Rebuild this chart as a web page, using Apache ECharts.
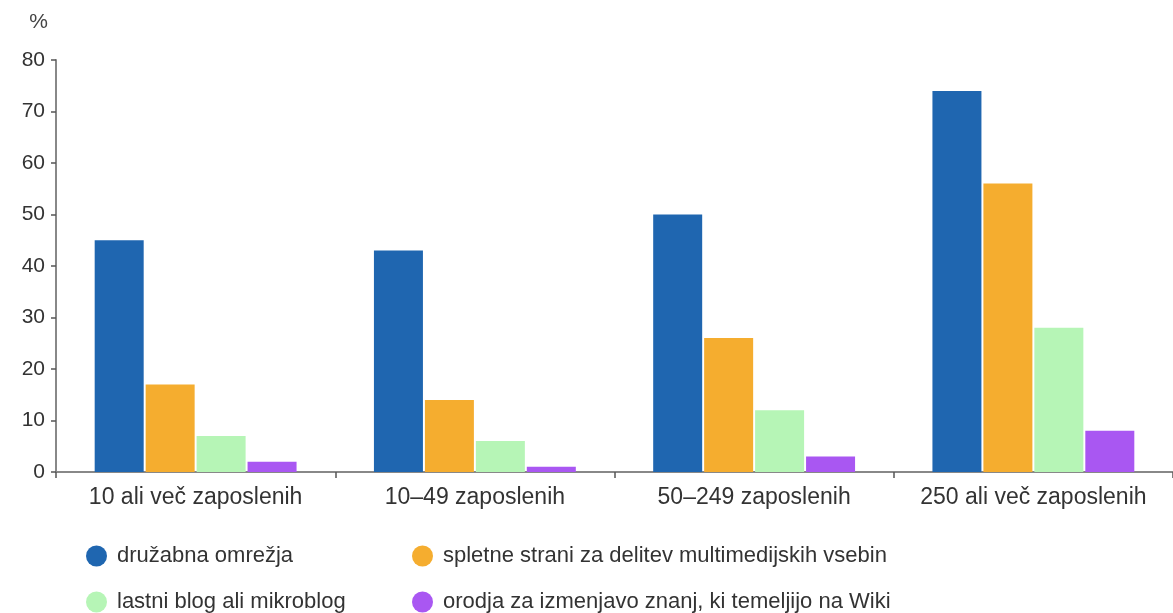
<!DOCTYPE html>
<html>
<head>
<meta charset="utf-8">
<script src="https://cdn.jsdelivr.net/npm/echarts@6/dist/echarts.min.js"></script>
<style>
  html, body { margin: 0; padding: 0; background: #fff; }
  #chart { width: 1173px; height: 613px; }
</style>
</head>
<body>
<div id="chart"></div>
<script>
// kategorije (velikost podjetja)
const categories = ['10 ali več zaposlenih', '10–49 zaposlenih', '50–249 zaposlenih', '250 ali več zaposlenih'];

// deleži podjetij v %
const druzabna = [45, 43, 50, 74];
const multimedija = [17, 14, 26, 56];
const blog = [7, 6, 12, 28];
const wiki = [2, 1, 3, 8];

const seriesNames = [
    'družabna omrežja',
    'spletne strani za delitev multimedijskih vsebin',
    'lastni blog ali mikroblog',
    'orodja za izmenjavo znanj, ki temeljijo na Wiki'
];
const colors = ['#1f66b0', '#f5ad2f', '#b6f5b6', '#a957f2'];

const chart = echarts.init(document.querySelector('#chart'));

const fontFam = 'Liberation Sans, Arial, sans-serif';

// legenda: vsak vnos posebej (2 stolpca, 2 vrstici)
const legendPos = [[86, 545], [412, 545], [86, 591], [412, 591]];
const legends = seriesNames.map((name, i) => ({
    data: [name],
    left: legendPos[i][0],
    top: legendPos[i][1],
    icon: 'circle',
    itemWidth: 21,
    itemHeight: 21,
    padding: 0,
    textStyle: {
        fontFamily: fontFam,
        fontSize: 22,
        color: '#333',
        padding: [0, 0, 0, 5]
    }
}));

chart.setOption({
    color: colors,
    animation: false,
    grid: {
        left: 56,
        right: -8,
        top: 60,
        bottom: 141
    },
    legend: legends,
    xAxis: {
        type: 'category',
        data: categories,
        axisLine: {
            lineStyle: { color: '#888', width: 2 }
        },
        axisTick: {
            show: true,
            interval: 0,
            length: 6,
            lineStyle: { color: '#555', width: 1.5 }
        },
        axisLabel: {
            interval: 0,
            fontFamily: fontFam,
            fontSize: 23,
            color: '#333',
            margin: 14
        }
    },
    yAxis: {
        type: 'value',
        min: 0,
        max: 80,
        interval: 10,
        name: '%',
        nameLocation: 'end',
        nameGap: 27,
        nameTextStyle: {
            fontFamily: fontFam,
            fontSize: 21,
            color: '#444',
            align: 'right',
            padding: [0, 8, 0, 0]
        },
        axisLine: {
            show: true,
            lineStyle: { color: '#888', width: 2 }
        },
        axisTick: {
            show: true,
            length: 5,
            lineStyle: { color: '#555', width: 1.5 }
        },
        splitLine: { show: false },
        axisLabel: {
            fontFamily: fontFam,
            fontSize: 21,
            color: '#333',
            margin: 11
        }
    },
    series: [
        { name: seriesNames[0], type: 'bar', data: druzabna, barWidth: 49, barGap: '4%' },
        { name: seriesNames[1], type: 'bar', data: multimedija, barWidth: 49, barGap: '4%' },
        { name: seriesNames[2], type: 'bar', data: blog, barWidth: 49, barGap: '4%' },
        { name: seriesNames[3], type: 'bar', data: wiki, barWidth: 49, barGap: '4%' }
    ]
});
</script>
</body>
</html>
